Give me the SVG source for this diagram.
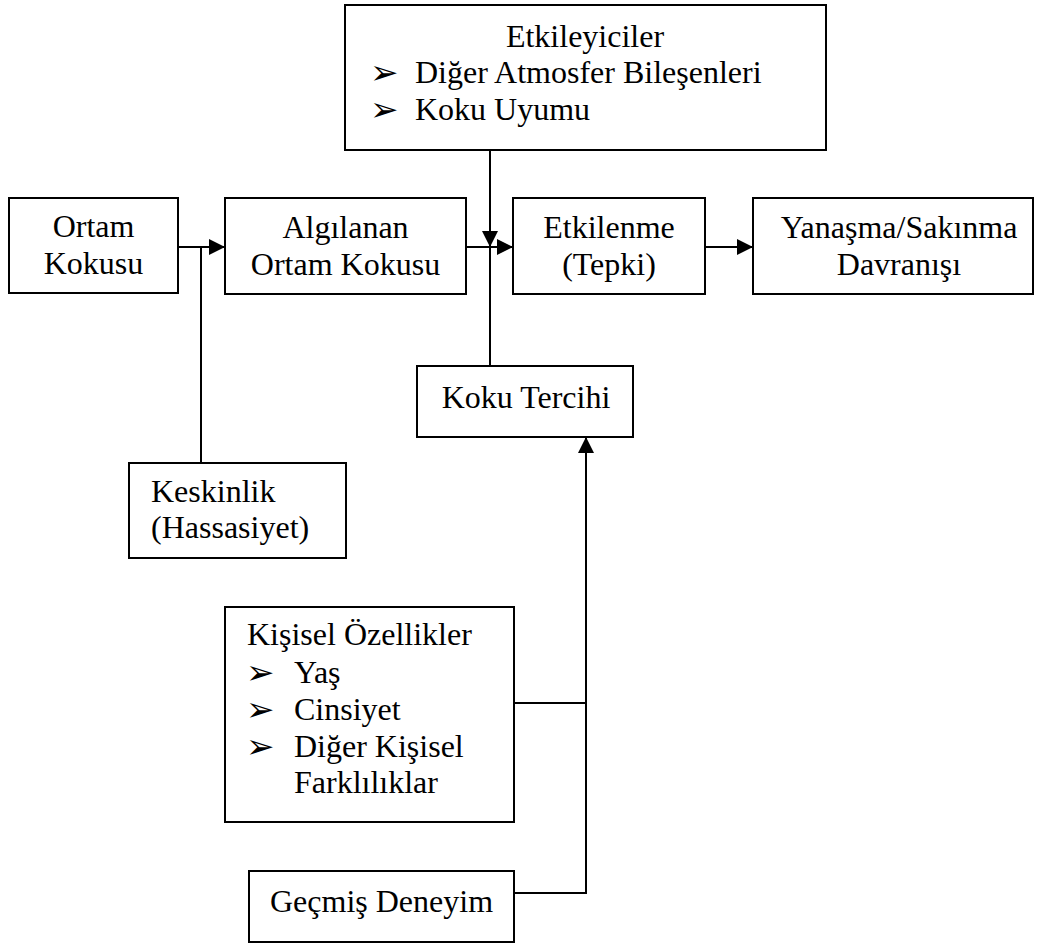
<svg xmlns="http://www.w3.org/2000/svg" width="1038" height="945" viewBox="0 0 1038 945">
<style>
.box{fill:#fff;stroke:#000;stroke-width:2}
.t{font-family:"Liberation Serif","Times New Roman",serif;font-size:32px;fill:#000}
.c{text-anchor:middle}
.b{font-family:"DejaVu Sans",sans-serif;font-size:34px;fill:#000}
.ln{fill:none;stroke:#000;stroke-width:2}
</style>
<defs>
<marker id="ah" markerUnits="userSpaceOnUse" markerWidth="16" markerHeight="16" refX="16" refY="8" orient="auto">
<path d="M0,0 L16,8 L0,16 z" fill="#000"/>
</marker>
</defs>
<g id="connectors">
<line class="ln" x1="178" y1="247" x2="225" y2="247" marker-end="url(#ah)"/>
<line class="ln" x1="201" y1="247" x2="201" y2="463"/>
<line class="ln" x1="466" y1="247" x2="513" y2="247" marker-end="url(#ah)"/>
<line class="ln" x1="490" y1="150" x2="490" y2="247" marker-end="url(#ah)"/>
<line class="ln" x1="490" y1="247" x2="490" y2="366"/>
<line class="ln" x1="705" y1="247" x2="753" y2="247" marker-end="url(#ah)"/>
<line class="ln" x1="514" y1="703" x2="586" y2="703"/>
<polyline class="ln" points="514,893 586,893 586,437" marker-end="url(#ah)"/>
</g>
<g id="etkileyiciler">
<rect class="box" x="345" y="5" width="481" height="145"/>
<text class="t c" x="585" y="47">Etkileyiciler</text>
<text class="b" x="370" y="84">➢</text>
<text class="t" x="415" y="83">Diğer Atmosfer Bileşenleri</text>
<text class="b" x="370" y="121">➢</text>
<text class="t" x="415" y="120">Koku Uyumu</text>
</g>
<g id="ortam">
<rect class="box" x="9" y="198" width="169" height="95"/>
<text class="t c" x="93.5" y="237">Ortam</text>
<text class="t c" x="93.5" y="274">Kokusu</text>
</g>
<g id="algilanan">
<rect class="box" x="225" y="198" width="241" height="96"/>
<text class="t c" x="345.5" y="238">Algılanan</text>
<text class="t c" x="345.5" y="275">Ortam Kokusu</text>
</g>
<g id="etkilenme">
<rect class="box" x="513" y="198" width="192" height="96"/>
<text class="t c" x="609" y="238">Etkilenme</text>
<text class="t c" x="609" y="275">(Tepki)</text>
</g>
<g id="yanasma">
<rect class="box" x="753" y="198" width="280" height="96"/>
<text class="t c" x="899" y="238">Yanaşma/Sakınma</text>
<text class="t c" x="899" y="275">Davranışı</text>
</g>
<g id="koku-tercihi">
<rect class="box" x="417" y="366" width="216" height="71"/>
<text class="t c" x="526" y="408">Koku Tercihi</text>
</g>
<g id="keskinlik">
<rect class="box" x="129" y="463" width="217" height="95"/>
<text class="t" x="151" y="502">Keskinlik</text>
<text class="t" x="151" y="538">(Hassasiyet)</text>
</g>
<g id="kisisel">
<rect class="box" x="225" y="607" width="289" height="215"/>
<text class="t" x="247" y="645">Kişisel Özellikler</text>
<text class="b" x="246" y="684">➢</text>
<text class="t" x="294" y="683">Yaş</text>
<text class="b" x="246" y="721">➢</text>
<text class="t" x="294" y="720">Cinsiyet</text>
<text class="b" x="246" y="758">➢</text>
<text class="t" x="294" y="757">Diğer Kişisel</text>
<text class="t" x="294" y="793">Farklılıklar</text>
</g>
<g id="gecmis">
<rect class="box" x="249" y="871" width="265" height="71"/>
<text class="t c" x="381.5" y="912">Geçmiş Deneyim</text>
</g>
</svg>
